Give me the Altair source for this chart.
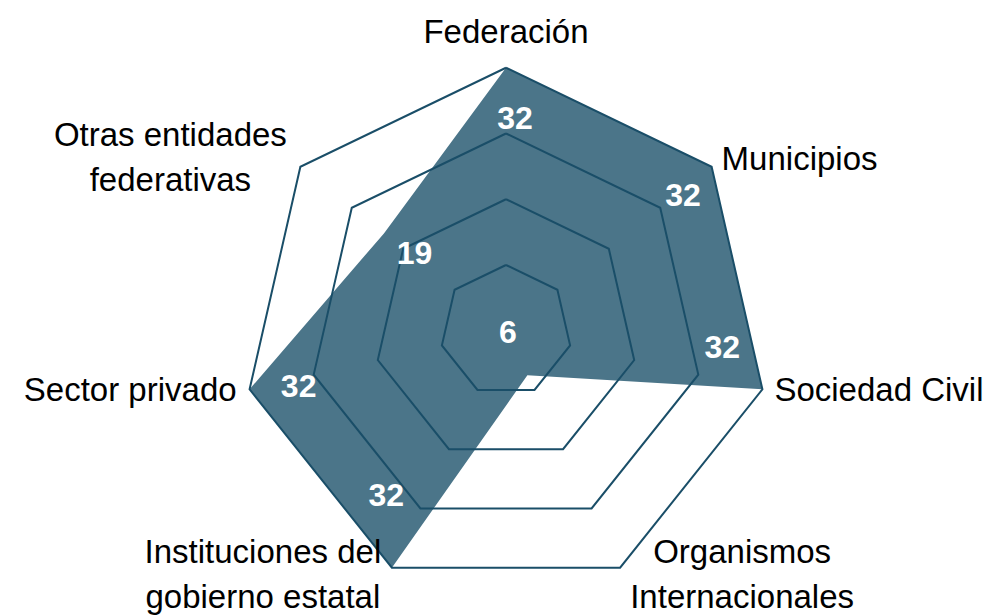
import altair as alt
import pandas as pd

# ---------------- data ----------------
categories = [
    "Federación",
    "Municipios",
    "Sociedad Civil",
    "Organismos Internacionales",
    "Instituciones del gobierno estatal",
    "Sector privado",
    "Otras entidades federativas",
]
category_labels = [
    "Federación",
    "Municipios",
    "Sociedad Civil",
    "Organismos\nInternacionales",
    "Instituciones del\ngobierno estatal",
    "Sector privado",
    "Otras entidades\nfederativas",
]
values = [32, 32, 32, 6, 32, 32, 19]
value_labels = ["32", "32", "32", "6", "32", "32", "19"]
ring_levels = [8, 16, 24, 32]
axis_max = 32

# ---------------- style / layout ----------------
FILL = "#4B7589"
LINE = "#1A4E68"
FONT = "Liberation Sans"
W, H = 977, 608
PX_PER_UNIT = 263 / axis_max
CX, CY = 498, 322.75
x_dom = [-CX / PX_PER_UNIT, (W - CX) / PX_PER_UNIT]
y_dom = [-(H - CY) / PX_PER_UNIT, CY / PX_PER_UNIT]

n = len(categories)
ANG = f"PI/2 - datum.idx*2*PI/{n}"

poly_df = pd.DataFrame({"idx": list(range(n)) + [n], "value": values + values[:1]})
ring_df = pd.DataFrame(
    [{"level": lv, "idx": i} for lv in ring_levels for i in range(n + 1)]
)
val_df = pd.DataFrame({"idx": list(range(n)), "value": values, "label": value_labels})
cat_df = pd.DataFrame({"idx": list(range(n)), "category": categories, "label": category_labels})

X = alt.X("px:Q", scale=alt.Scale(domain=x_dom, nice=False, zero=False), axis=None)
Y = alt.Y("py:Q", scale=alt.Scale(domain=y_dom, nice=False, zero=False), axis=None)


def polar(chart, rexpr):
    return chart.transform_calculate(a=ANG, r=rexpr).transform_calculate(
        px="datum.r*cos(datum.a)", py="datum.r*sin(datum.a)"
    )


# filled data polygon (no outline)
fill_layer = polar(alt.Chart(poly_df), "datum.value").mark_line(
    fill=FILL, color=FILL, strokeWidth=0
).encode(x=X, y=Y, order=alt.Order("idx:Q"))

# grid rings
ring_layer = polar(alt.Chart(ring_df), "datum.level").mark_line(
    color=LINE, strokeWidth=2
).encode(x=X, y=Y, detail="level:N", order=alt.Order("idx:Q"))

# value labels: anchored slightly inside the data point, fine offsets per label
value_offsets = {0: (9, 2), 1: (10, -2), 2: (8, -30), 3: (2, 2), 4: (-27, -27), 5: (1, 9), 6: (-8, -10)}
value_layers = []
for i in range(n):
    dx, dy = value_offsets[i]
    value_layers.append(
        polar(alt.Chart(val_df).transform_filter(f"datum.idx == {i}"),
              f"max(datum.value - 6, 0)")
        .mark_text(font=FONT, fontSize=32, fontWeight="bold", color="white",
                   align="center", baseline="middle", dx=dx, dy=dy)
        .encode(x=X, y=Y, text="label:N")
    )

# category labels at the outer vertices
cat_style = {
    0: ("center", 0, -25),
    1: ("left", 10, 3),
    2: ("left", 12, 12),
    3: ("center", 122, -5),
    4: ("center", -129, -5),
    5: ("right", -13, 12),
    6: ("center", -130, -21),
}
cat_layers = []
for i in range(n):
    al, dx, dy = cat_style[i]
    cat_layers.append(
        polar(alt.Chart(cat_df).transform_filter(f"datum.idx == {i}"), str(axis_max))
        .mark_text(font=FONT, fontSize=33, color="black", align=al,
                   baseline="alphabetic", dx=dx, dy=dy, lineBreak="\n", lineHeight=45)
        .encode(x=X, y=Y, text="label:N")
    )

chart = alt.layer(fill_layer, ring_layer, *value_layers, *cat_layers).properties(
    width=W, height=H, padding=0,
    autosize=alt.AutoSizeParams(type="none"),
    background="white",
).configure_view(strokeWidth=0)

chart.save("out.html", embed_options={"renderer": "svg", "actions": False})
